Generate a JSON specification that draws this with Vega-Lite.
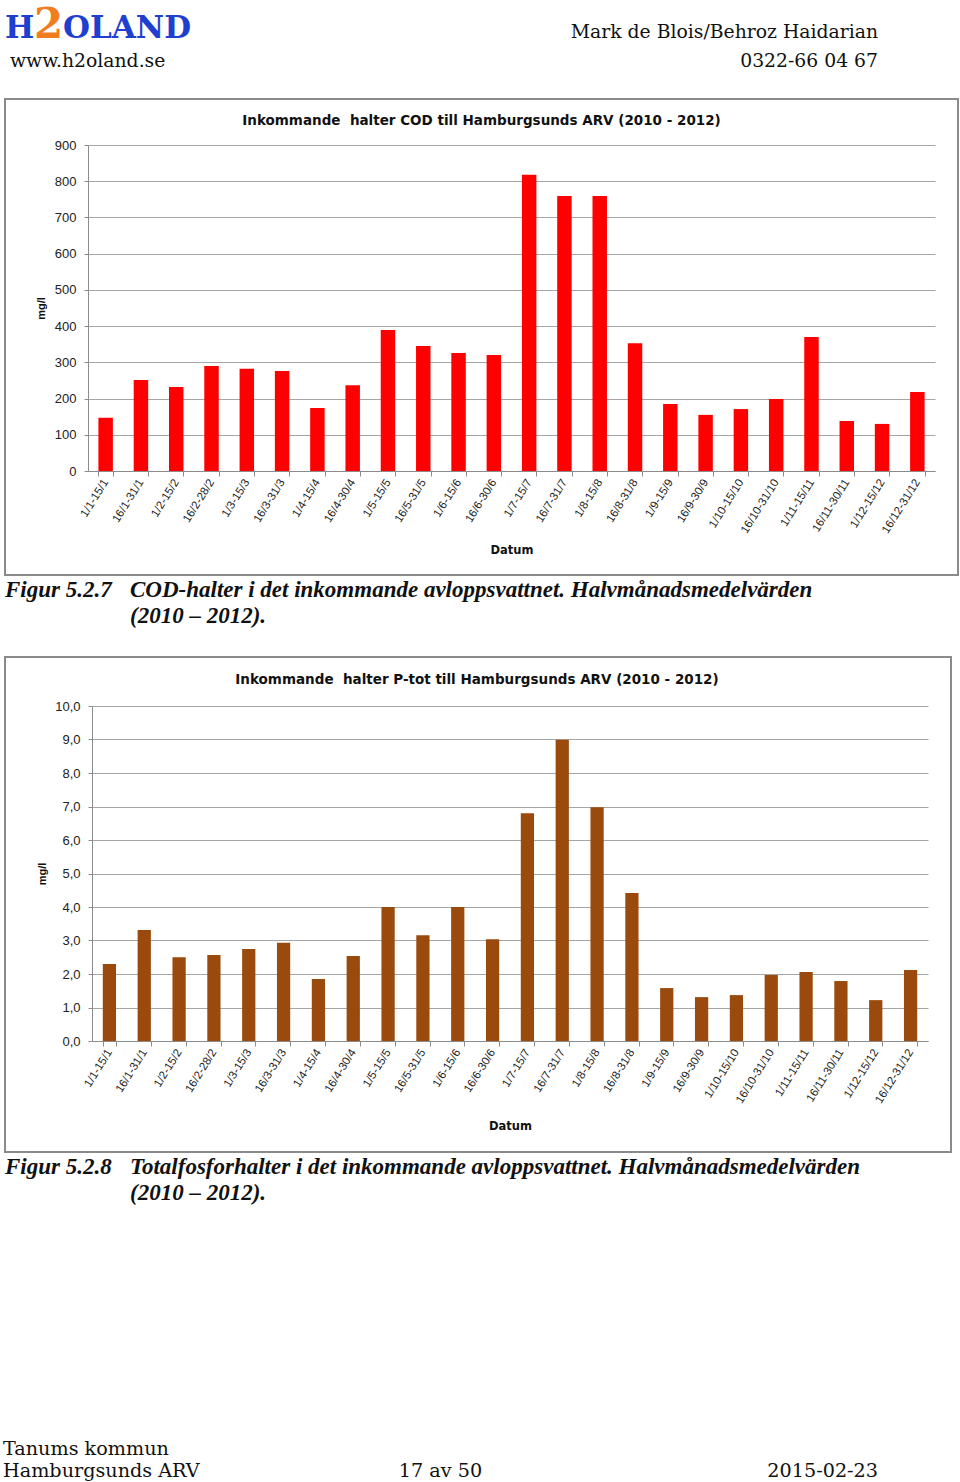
{
  "$schema": "https://vega.github.io/schema/vega-lite/v6.json",
  "background": "white",
  "padding": 0,
  "spacing": 0,
  "bounds": "flush",
  "datasets": {
    "cod": [
      {"period": "1/1-15/1", "value": 147},
      {"period": "16/1-31/1", "value": 251},
      {"period": "1/2-15/2", "value": 232},
      {"period": "16/2-28/2", "value": 290},
      {"period": "1/3-15/3", "value": 282},
      {"period": "16/3-31/3", "value": 276},
      {"period": "1/4-15/4", "value": 174},
      {"period": "16/4-30/4", "value": 237},
      {"period": "1/5-15/5", "value": 389},
      {"period": "16/5-31/5", "value": 345},
      {"period": "1/6-15/6", "value": 326},
      {"period": "16/6-30/6", "value": 320},
      {"period": "1/7-15/7", "value": 818},
      {"period": "16/7-31/7", "value": 759},
      {"period": "1/8-15/8", "value": 759},
      {"period": "16/8-31/8", "value": 353},
      {"period": "1/9-15/9", "value": 185},
      {"period": "16/9-30/9", "value": 155},
      {"period": "1/10-15/10", "value": 171},
      {"period": "16/10-31/10", "value": 199},
      {"period": "1/11-15/11", "value": 370},
      {"period": "16/11-30/11", "value": 138},
      {"period": "1/12-15/12", "value": 130},
      {"period": "16/12-31/12", "value": 218}
    ],
    "ptot": [
      {"period": "1/1-15/1", "value": 2.3},
      {"period": "16/1-31/1", "value": 3.31},
      {"period": "1/2-15/2", "value": 2.5},
      {"period": "16/2-28/2", "value": 2.57},
      {"period": "1/3-15/3", "value": 2.75},
      {"period": "16/3-31/3", "value": 2.93},
      {"period": "1/4-15/4", "value": 1.85},
      {"period": "16/4-30/4", "value": 2.54},
      {"period": "1/5-15/5", "value": 4.0},
      {"period": "16/5-31/5", "value": 3.16},
      {"period": "1/6-15/6", "value": 4.0},
      {"period": "16/6-30/6", "value": 3.04},
      {"period": "1/7-15/7", "value": 6.8},
      {"period": "16/7-31/7", "value": 8.99},
      {"period": "1/8-15/8", "value": 6.98},
      {"period": "16/8-31/8", "value": 4.42},
      {"period": "1/9-15/9", "value": 1.58},
      {"period": "16/9-30/9", "value": 1.31},
      {"period": "1/10-15/10", "value": 1.37},
      {"period": "16/10-31/10", "value": 1.97},
      {"period": "1/11-15/11", "value": 2.06},
      {"period": "16/11-30/11", "value": 1.79},
      {"period": "1/12-15/12", "value": 1.22},
      {"period": "16/12-31/12", "value": 2.12}
    ]
  },
  "vconcat": [
    {
      "width": 960,
      "height": 145,
      "layer": [
        {
          "data": {"values": [{"piece": "H", "line": "1"}, {"piece": "OLAND", "line": "1"}]},
          "mark": {"type": "text", "align": "left", "baseline": "alphabetic", "font": "DejaVu Serif", "fontWeight": "bold", "fontSize": 31, "color": "#1f3fd0"},
          "encoding": {
            "x": {"field": "piece", "type": "ordinal", "scale": {"type": "point", "domain": ["H", "2", "OLAND"], "range": [5, 63], "padding": 0}, "axis": null},
            "y": {"field": "line", "type": "ordinal", "scale": {"type": "point", "domain": ["1", "2"], "range": [38, 67], "padding": 0}, "axis": null},
            "text": {"field": "piece"}
          }
        },
        {
          "data": {"values": [{"piece": "2", "line": "1"}]},
          "mark": {"type": "text", "align": "left", "baseline": "alphabetic", "font": "DejaVu Serif", "fontWeight": "bold", "fontSize": 42, "color": "#f07d1e"},
          "encoding": {
            "x": {"field": "piece", "type": "ordinal", "scale": {"type": "point", "domain": ["H", "2", "OLAND"], "range": [5, 63], "padding": 0}, "axis": null},
            "y": {"field": "line", "type": "ordinal", "scale": {"type": "point", "domain": ["1", "2"], "range": [38, 67], "padding": 0}, "axis": null},
            "text": {"field": "piece"}
          }
        },
        {
          "data": {"values": [{"t": "www.h2oland.se", "side": "left", "line": "2"}]},
          "mark": {"type": "text", "align": "left", "baseline": "alphabetic", "font": "DejaVu Serif", "fontSize": 18.8, "color": "#111"},
          "encoding": {
            "x": {"field": "side", "type": "ordinal", "scale": {"type": "point", "domain": ["left", "right"], "range": [10, 878], "padding": 0}, "axis": null},
            "y": {"field": "line", "type": "ordinal", "scale": {"type": "point", "domain": ["1", "2"], "range": [38, 67], "padding": 0}, "axis": null},
            "text": {"field": "t"}
          }
        },
        {
          "data": {"values": [{"t": "Mark de Blois/Behroz Haidarian", "side": "right", "line": "1"}, {"t": "0322-66 04 67", "side": "right", "line": "2"}]},
          "mark": {"type": "text", "align": "right", "baseline": "alphabetic", "font": "DejaVu Serif", "fontSize": 18.8, "color": "#111"},
          "encoding": {
            "x": {"field": "side", "type": "ordinal", "scale": {"type": "point", "domain": ["left", "right"], "range": [10, 878], "padding": 0}, "axis": null},
            "y": {"field": "line", "type": "ordinal", "scale": {"type": "point", "domain": ["1", "2"], "range": [38, 67], "padding": 0}, "axis": null},
            "text": {"field": "t"}
          }
        }
      ],
      "resolve": {"scale": {"x": "independent", "y": "independent"}}
    },
    {
      "hconcat": [
        {
          "width": 88,
          "height": 326,
          "data": {"values": [{}]},
          "mark": {"type": "text"},
          "encoding": {"text": {"value": ""}}
        },
        {
          "width": 847,
          "height": 326,
          "title": {"text": "Inkommande\u00a0 halter COD till Hamburgsunds ARV (2010 - 2012)", "anchor": "middle", "frame": "group", "dx": -30, "offset": -40, "baseline": "alphabetic", "font": "DejaVu Sans", "fontSize": 13.5, "fontWeight": "bold", "color": "#111"},
          "layer": [
            {
              "data": {"name": "cod"},
              "mark": {"type": "bar", "color": "#ff0000"},
              "encoding": {
                "x": {
                  "field": "period", "type": "nominal", "sort": null,
                  "scale": {"paddingInner": 0.59, "paddingOuter": 0.295},
                  "axis": {"orient": "bottom", "title": "Datum", "titleFont": "DejaVu Sans", "titleFontSize": 11.5, "titleFontWeight": "bold", "titleColor": "#111", "titlePadding": 10,
                    "labelAngle": -58, "labelAlign": "right", "labelBaseline": "middle", "labelFont": "Liberation Sans", "labelFontSize": 11.5, "labelColor": "#222", "labelPadding": 4,
                    "tickBand": "extent", "tickSize": 5, "tickColor": "#8c8c8c", "domainColor": "#8c8c8c", "grid": false}
                },
                "y": {
                  "field": "value", "type": "quantitative",
                  "scale": {"domain": [0, 900], "nice": false},
                  "axis": {"orient": "left", "values": [0, 100, 200, 300, 400, 500, 600, 700, 800, 900], "title": "mg/l", "titleFont": "Liberation Sans", "titleFontSize": 11, "titleFontWeight": "bold", "titleColor": "#111", "titlePadding": 8,
                    "labelFont": "Liberation Sans", "labelFontSize": 13, "labelColor": "#222", "labelPadding": 8,
                    "tickSize": 4, "tickColor": "#8c8c8c", "domainColor": "#8c8c8c", "grid": true, "gridColor": "#a6a6a6"}
                }
              }
            },
            {
              "data": {"values": [{}]},
              "mark": {"type": "rect", "fill": "transparent", "stroke": "#8a8a8a", "strokeWidth": 2},
              "encoding": {
                "x": {"datum": 0, "type": "quantitative", "scale": {"domain": [0, 1], "range": [-83, 870], "nice": false, "zero": false}, "axis": null},
                "x2": {"datum": 1},
                "y": {"datum": 0, "type": "quantitative", "scale": {"domain": [0, 1], "range": [-46, 430], "nice": false, "zero": false}, "axis": null},
                "y2": {"datum": 1}
              }
            }
          ],
          "resolve": {"scale": {"x": "independent", "y": "independent"}, "axis": {"x": "independent", "y": "independent"}}
        }
      ],
      "spacing": 0,
      "bounds": "flush"
    },
    {
      "width": 960,
      "height": 561,
      "data": {"values": [
        {"t": "Figur 5.2.7", "col": "label", "line": "1"},
        {"t": "COD-halter i det inkommande avloppsvattnet. Halvmånadsmedelvärden", "col": "text", "line": "1"},
        {"t": "(2010 – 2012).", "col": "text", "line": "2"}
      ]},
      "mark": {"type": "text", "align": "left", "baseline": "alphabetic", "font": "Liberation Serif", "fontSize": 23, "fontWeight": "bold", "fontStyle": "italic", "color": "#111"},
      "encoding": {
        "x": {"field": "col", "type": "ordinal", "scale": {"type": "point", "domain": ["label", "text"], "range": [5, 130], "padding": 0}, "axis": null},
        "y": {"field": "line", "type": "ordinal", "scale": {"type": "point", "domain": ["1", "2"], "range": [452, 478], "padding": 0}, "axis": null},
        "text": {"field": "t"}
      }
    },
    {
      "hconcat": [
        {
          "width": 92,
          "height": 335,
          "data": {"values": [{}]},
          "mark": {"type": "text"},
          "encoding": {"text": {"value": ""}}
        },
        {
          "width": 836,
          "height": 335,
          "title": {"text": "Inkommande\u00a0 halter P-tot till Hamburgsunds ARV (2010 - 2012)", "anchor": "middle", "frame": "group", "dx": -33, "offset": -41, "baseline": "alphabetic", "font": "DejaVu Sans", "fontSize": 13.5, "fontWeight": "bold", "color": "#111"},
          "layer": [
            {
              "data": {"name": "ptot"},
              "mark": {"type": "bar", "color": "#9a4a0c"},
              "encoding": {
                "x": {
                  "field": "period", "type": "nominal", "sort": null,
                  "scale": {"paddingInner": 0.62, "paddingOuter": 0.31},
                  "axis": {"orient": "bottom", "title": "Datum", "titleFont": "DejaVu Sans", "titleFontSize": 11.5, "titleFontWeight": "bold", "titleColor": "#111", "titlePadding": 16,
                    "labelAngle": -58, "labelAlign": "right", "labelBaseline": "middle", "labelFont": "Liberation Sans", "labelFontSize": 11.5, "labelColor": "#222", "labelPadding": 4,
                    "tickBand": "extent", "tickSize": 5, "tickColor": "#8c8c8c", "domainColor": "#8c8c8c", "grid": false}
                },
                "y": {
                  "field": "value", "type": "quantitative",
                  "scale": {"domain": [0, 10], "nice": false},
                  "axis": {"orient": "left", "values": [0, 1, 2, 3, 4, 5, 6, 7, 8, 9, 10], "labelExpr": "replace(format(datum.value, '.1f'), '.', ',')", "title": "mg/l", "titleFont": "Liberation Sans", "titleFontSize": 11, "titleFontWeight": "bold", "titleColor": "#111", "titlePadding": 7,
                    "labelFont": "Liberation Sans", "labelFontSize": 13, "labelColor": "#222", "labelPadding": 8,
                    "tickSize": 4, "tickColor": "#8c8c8c", "domainColor": "#8c8c8c", "grid": true, "gridColor": "#a6a6a6"}
                }
              }
            },
            {
              "data": {"values": [{}]},
              "mark": {"type": "rect", "fill": "transparent", "stroke": "#8a8a8a", "strokeWidth": 2},
              "encoding": {
                "x": {"datum": 0, "type": "quantitative", "scale": {"domain": [0, 1], "range": [-87, 859], "nice": false, "zero": false}, "axis": null},
                "x2": {"datum": 1},
                "y": {"datum": 0, "type": "quantitative", "scale": {"domain": [0, 1], "range": [-49, 446], "nice": false, "zero": false}, "axis": null},
                "y2": {"datum": 1}
              }
            }
          ],
          "resolve": {"scale": {"x": "independent", "y": "independent"}, "axis": {"x": "independent", "y": "independent"}}
        }
      ],
      "spacing": 0,
      "bounds": "flush"
    },
    {
      "width": 960,
      "height": 776,
      "layer": [
        {
          "data": {"values": [
            {"t": "Figur 5.2.8", "col": "label", "line": "1"},
            {"t": "Totalfosforhalter i det inkommande avloppsvattnet. Halvmånadsmedelvärden", "col": "text", "line": "1"},
            {"t": "(2010 – 2012).", "col": "text", "line": "2"}
          ]},
          "mark": {"type": "text", "align": "left", "baseline": "alphabetic", "font": "Liberation Serif", "fontSize": 23, "fontWeight": "bold", "fontStyle": "italic", "color": "#111"},
          "encoding": {
            "x": {"field": "col", "type": "ordinal", "scale": {"type": "point", "domain": ["label", "text"], "range": [5, 130], "padding": 0}, "axis": null},
            "y": {"field": "line", "type": "ordinal", "scale": {"type": "point", "domain": ["1", "2"], "range": [468, 494], "padding": 0}, "axis": null},
            "text": {"field": "t"}
          }
        },
        {
          "data": {"values": [
            {"t": "Tanums kommun", "side": "left", "line": "1"},
            {"t": "Hamburgsunds ARV", "side": "left", "line": "2"}
          ]},
          "mark": {"type": "text", "align": "left", "baseline": "alphabetic", "font": "DejaVu Serif", "fontSize": 19.2, "color": "#111"},
          "encoding": {
            "x": {"field": "side", "type": "ordinal", "scale": {"type": "point", "domain": ["left", "middle", "right"], "range": [3, 878], "padding": 0}, "axis": null},
            "y": {"field": "line", "type": "ordinal", "scale": {"type": "point", "domain": ["1", "2"], "range": [749, 771], "padding": 0}, "axis": null},
            "text": {"field": "t"}
          }
        },
        {
          "data": {"values": [{"t": "17 av 50", "side": "middle", "line": "2"}]},
          "mark": {"type": "text", "align": "center", "baseline": "alphabetic", "font": "DejaVu Serif", "fontSize": 19.2, "color": "#111"},
          "encoding": {
            "x": {"field": "side", "type": "ordinal", "scale": {"type": "point", "domain": ["left", "middle", "right"], "range": [3, 878], "padding": 0}, "axis": null},
            "y": {"field": "line", "type": "ordinal", "scale": {"type": "point", "domain": ["1", "2"], "range": [749, 771], "padding": 0}, "axis": null},
            "text": {"field": "t"}
          }
        },
        {
          "data": {"values": [{"t": "2015-02-23", "side": "right", "line": "2"}]},
          "mark": {"type": "text", "align": "right", "baseline": "alphabetic", "font": "DejaVu Serif", "fontSize": 19.2, "color": "#111"},
          "encoding": {
            "x": {"field": "side", "type": "ordinal", "scale": {"type": "point", "domain": ["left", "middle", "right"], "range": [3, 878], "padding": 0}, "axis": null},
            "y": {"field": "line", "type": "ordinal", "scale": {"type": "point", "domain": ["1", "2"], "range": [749, 771], "padding": 0}, "axis": null},
            "text": {"field": "t"}
          }
        }
      ],
      "resolve": {"scale": {"x": "independent", "y": "independent"}}
    }
  ],
  "config": {
    "view": {"stroke": null},
    "font": "Liberation Sans"
  }
}
